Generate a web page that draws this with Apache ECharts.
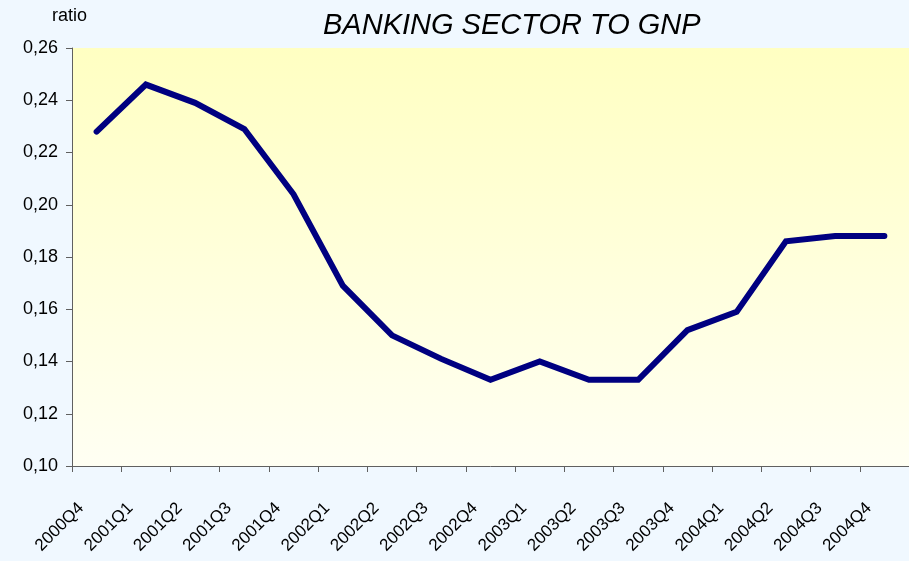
<!DOCTYPE html>
<html>
<head>
<meta charset="utf-8">
<script src="https://cdn.jsdelivr.net/npm/echarts@6/dist/echarts.min.js"></script>
<style>html,body{margin:0;padding:0;background:#f0f8ff;}#c{width:909px;height:561px;}</style>
</head>
<body>
<div id="c"></div>
<script>
const categories = ['2000Q4','2001Q1','2001Q2','2001Q3','2001Q4','2002Q1','2002Q2','2002Q3','2002Q4','2003Q1','2003Q2','2003Q3','2003Q4','2004Q1','2004Q2','2004Q3','2004Q4'];
const ratioValues = [0.228, 0.246, 0.239, 0.229, 0.204, 0.169, 0.150, 0.141, 0.133, 0.140, 0.133, 0.133, 0.152, 0.159, 0.186, 0.188, 0.188];
const titleText = 'BANKING SECTOR TO GNP';
const yAxisLabel = 'ratio';

const chart = echarts.init(document.getElementById('c'), null, {renderer: 'canvas'});
const font = 'Liberation Sans, Arial, sans-serif';
chart.setOption({
  backgroundColor: '#f0f8ff',
  animation: false,
  title: {
    text: titleText,
    left: 318, top: 6,
    textStyle: {fontFamily: font, fontSize: 29, fontStyle: 'italic', fontWeight: 'normal', color: '#000'}
  },
  graphic: [{
    type: 'text', left: 52, top: 7,
    style: {text: yAxisLabel, font: '18px ' + font, fill: '#000'}
  }],
  grid: {
    left: 72, top: 48, right: -1, bottom: 95,
    show: true, borderWidth: 0,
    backgroundColor: new echarts.graphic.LinearGradient(0, 0, 0, 1, [
      {offset: 0, color: '#ffffc2'}, {offset: 1, color: '#fffff3'}
    ])
  },
  xAxis: {
    type: 'category', data: categories, boundaryGap: true,
    axisLine: {lineStyle: {color: '#606060', width: 1}},
    axisTick: {show: true, length: 6, inside: false, lineStyle: {color: '#606060'}},
    axisLabel: {rotate: 45, interval: 0, margin: 24, padding: [0, 22, 0, 0], fontFamily: font, fontSize: 17, color: '#000'},
    splitLine: {show: false}
  },
  yAxis: {
    type: 'value', min: 0.10, max: 0.26, interval: 0.02,
    axisLine: {show: true, lineStyle: {color: '#606060', width: 1}},
    axisTick: {show: true, length: 6, lineStyle: {color: '#606060'}},
    axisLabel: {fontFamily: font, fontSize: 18, color: '#000', margin: 14,
      formatter: v => v.toFixed(2).replace('.', ',')},
    splitLine: {show: false}
  },
  series: [{
    type: 'line', data: ratioValues, symbol: 'none',
    lineStyle: {color: '#000080', width: 6, cap: 'round', join: 'miter'}
  }]
});
</script>
</body>
</html>
